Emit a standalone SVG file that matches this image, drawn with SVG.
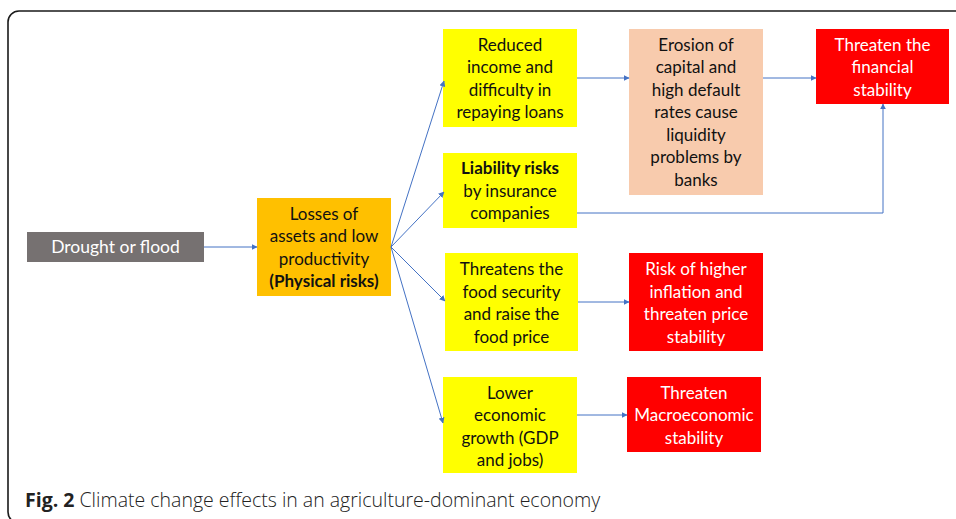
<svg xmlns="http://www.w3.org/2000/svg" width="956" height="519" viewBox="0 0 956 519">
<defs>
<marker id="ah" viewBox="0 0 10 10" refX="9" refY="5" markerWidth="6" markerHeight="6" markerUnits="userSpaceOnUse" orient="auto">
<path d="M0,0 L10,5 L0,10 z" fill="#4472C4"/>
</marker>
<style>
.box text{font-family:Lato,"Open Sans",sans-serif;font-size:17px;text-anchor:middle}
.dk{fill:#111}
.wt{fill:#fff}
.yel{fill:#FFFF00}
.org{fill:#FFC000}
.red{fill:#FF0000}
.pch{fill:#F8CBAD}
.gry{fill:#767171}
.b{font-weight:bold}
.conn path{fill:none;stroke:#4472C4;stroke-width:1;marker-end:url(#ah)}
</style>
</defs>
<rect width="956" height="519" fill="#fff"/>
<rect x="8" y="11" width="970" height="512" rx="11" fill="none" stroke="#1a1a1a" stroke-width="1.6"/>

<g id="drought" class="box"><rect class="gry" x="27" y="232" width="177" height="30"/><text class="wt" x="115.5" y="253" style="font-size:17.5px">Drought or flood</text></g>
<g id="losses" class="box"><rect class="org" x="257" y="198" width="134" height="98"/>
<text class="dk" x="324" y="220">Losses of</text><text class="dk" x="324" y="242">assets and low</text><text class="dk" x="324" y="265">productivity</text><text class="dk b" x="324" y="287">(Physical risks)</text></g>
<g id="reduced" class="box"><rect class="yel" x="443" y="29" width="134" height="98"/>
<text class="dk" x="510" y="51">Reduced</text><text class="dk" x="510" y="73">income and</text><text class="dk" x="510" y="96">difficulty in</text><text class="dk" x="510" y="118">repaying loans</text></g>
<g id="erosion" class="box"><rect class="pch" x="629" y="29" width="134" height="166"/>
<text class="dk" x="696" y="51">Erosion of</text><text class="dk" x="696" y="73">capital and</text><text class="dk" x="696" y="96">high default</text><text class="dk" x="696" y="118">rates cause</text><text class="dk" x="696" y="141">liquidity</text><text class="dk" x="696" y="163">problems by</text><text class="dk" x="696" y="186">banks</text></g>
<g id="finstab" class="box"><rect class="red" x="816" y="29" width="133" height="75"/>
<text class="wt" x="882.5" y="51">Threaten the</text><text class="wt" x="882.5" y="73">financial</text><text class="wt" x="882.5" y="96">stability</text></g>
<g id="liability" class="box"><rect class="yel" x="443" y="153" width="134" height="75"/>
<text class="dk b" x="510" y="174">Liability risks</text><text class="dk" x="510" y="197">by insurance</text><text class="dk" x="510" y="219">companies</text></g>
<g id="food" class="box"><rect class="yel" x="445" y="253" width="133" height="98"/>
<text class="dk" x="511.5" y="275">Threatens the</text><text class="dk" x="511.5" y="298">food security</text><text class="dk" x="511.5" y="320">and raise the</text><text class="dk" x="511.5" y="343">food price</text></g>
<g id="inflation" class="box"><rect class="red" x="629" y="253" width="134" height="98"/>
<text class="wt" x="696" y="275">Risk of higher</text><text class="wt" x="696" y="298">inflation and</text><text class="wt" x="696" y="320">threaten price</text><text class="wt" x="696" y="343">stability</text></g>
<g id="growth" class="box"><rect class="yel" x="443" y="377" width="134" height="96"/>
<text class="dk" x="510" y="399">Lower</text><text class="dk" x="510" y="421">economic</text><text class="dk" x="510" y="444">growth (GDP</text><text class="dk" x="510" y="466">and jobs)</text></g>
<g id="macro" class="box"><rect class="red" x="627" y="377" width="134" height="75"/>
<text class="wt" x="694" y="399">Threaten</text><text class="wt" x="694" y="421">Macroeconomic</text><text class="wt" x="694" y="444">stability</text></g>

<g id="connectors" class="conn">
<path d="M204,247 L257,247"/>
<path d="M391,247 L444,81"/>
<path d="M391,247 L444,192"/>
<path d="M391,247 L445,301"/>
<path d="M391,247 L443,423"/>
<path d="M577,78 L629,78"/>
<path d="M763,78 L816,78"/>
<path d="M577,213 L883,213 L883,104"/>
<path d="M578,302 L629,302"/>
<path d="M577,415 L627,415"/>
</g>

<text x="25" y="507" style="font-family:'Open Sans',sans-serif;font-size:19.5px;fill:#222;font-weight:300"><tspan font-weight="bold">Fig. 2</tspan> Climate change effects in an agriculture-dominant economy</text>
</svg>
